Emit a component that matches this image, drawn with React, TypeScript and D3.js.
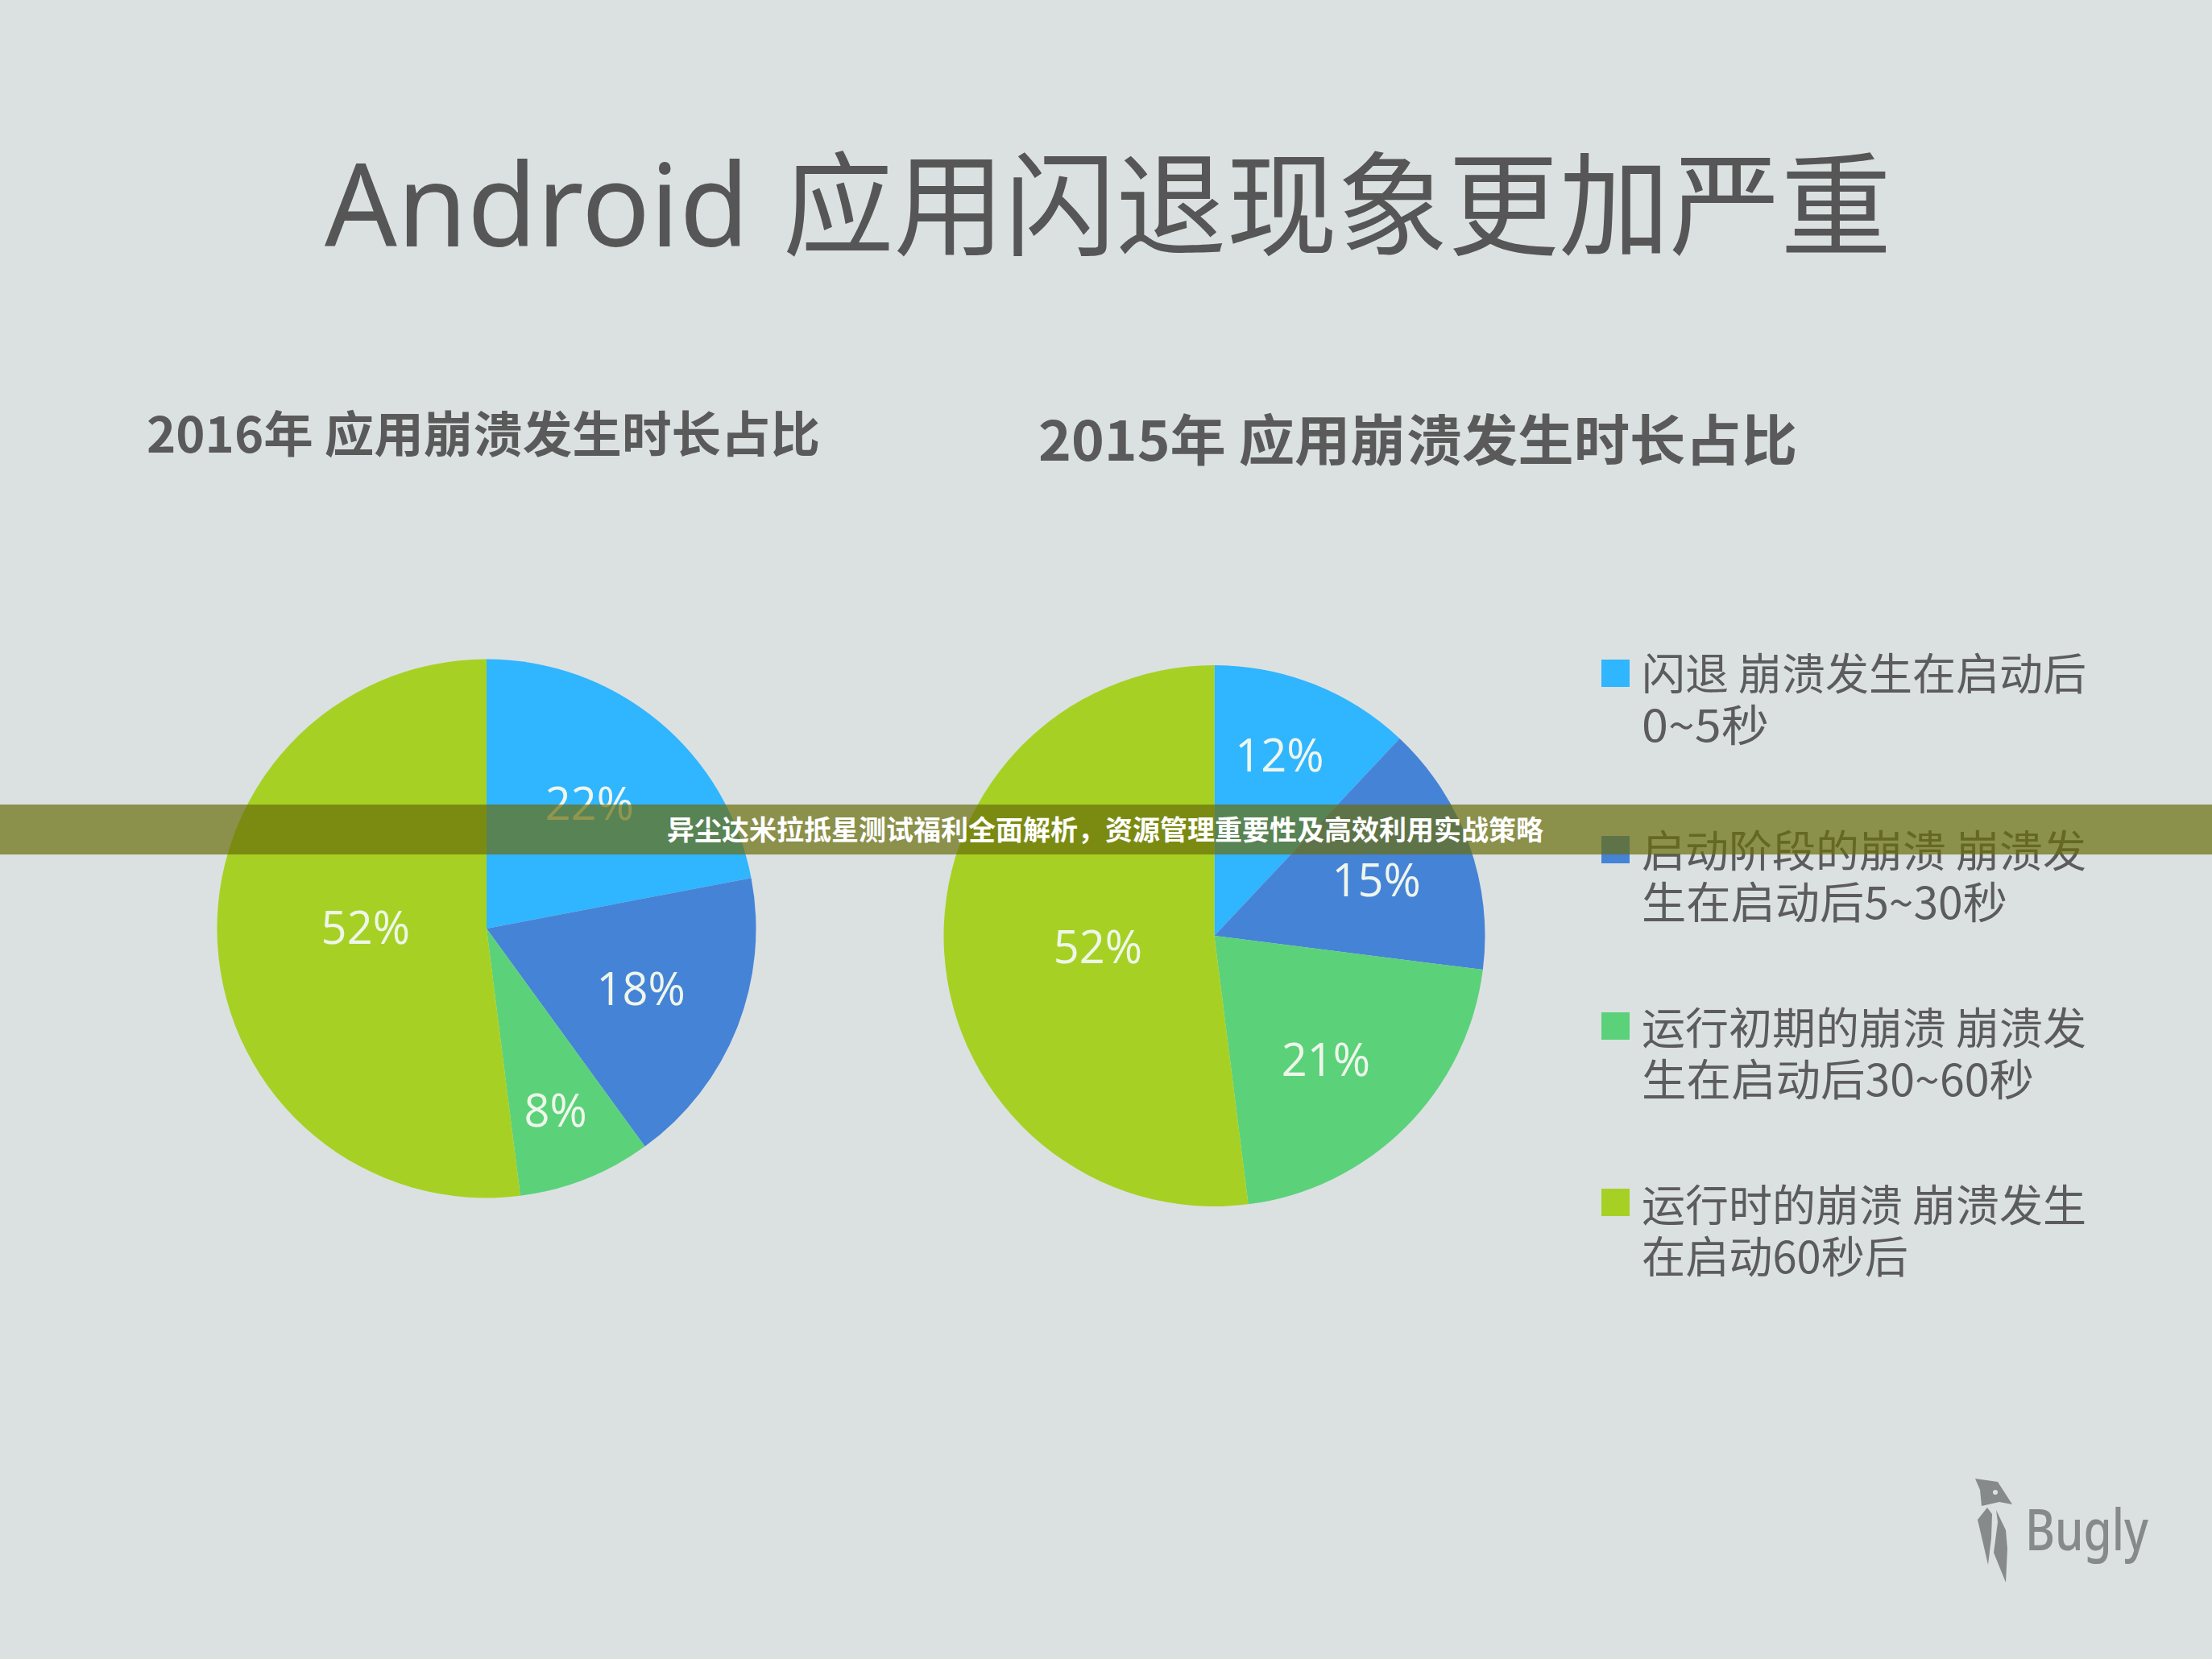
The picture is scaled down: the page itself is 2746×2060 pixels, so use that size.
import React from "react";
import * as d3 from "d3";

const W = 2746, H = 2060;
const titleLatin = "Android";
const titleCjk = "应用闪退现象更加严重";
const banner = "异尘达米拉抵星测试福利全面解析，资源管理重要性及高效利用实战策略";
const colors = ["#30b5ff", "#4583d6", "#5bd17a", "#a6d124"];
const values2016 = [22, 18, 8, 52];
const values2015 = [12, 15, 21, 52];
const labelRadial2016 = [0.6, 0.61, 0.72, 0.45];
const labelRadial2015 = [0.71, 0.63, 0.62, 0.44];
const labelShift2016 = [[0, -1], [2, 0], [-3, 2], [0, -11]];
const labelShift2015 = [[-7, -2], [2, 3], [-9, 7], [3, 5]];
const title2016 = "2016年 应用崩溃发生时长占比";
const title2015 = "2015年 应用崩溃发生时长占比";
const legendLines = [
  ["闪退 崩溃发生在启动后", "0~5秒"],
  ["启动阶段的崩溃 崩溃发", "生在启动后5~30秒"],
  ["运行初期的崩溃 崩溃发", "生在启动后30~60秒"],
  ["运行时的崩溃 崩溃发生", "在启动60秒后"],
];
const legendWidths = [[552, 158], [552, 454], [552, 487], [552, 331]];
const FONT = "'Noto Sans CJK SC','Noto Sans',sans-serif";

function Pie({ cx, cy, r, values, radial, shift }: { cx: number; cy: number; r: number; values: number[]; radial: number[]; shift: number[][] }) {
  const arcs = d3.pie<number>().sort(null)(values);
  const arc = d3.arc<d3.PieArcDatum<number>>().innerRadius(0).outerRadius(r);
  return (
    <g transform={`translate(${cx},${cy})`}>
      {arcs.map((a, i) => <path key={i} d={arc(a) as string} fill={colors[i]} />)}
      {arcs.map((a, i) => {
        const m = (a.startAngle + a.endAngle) / 2;
        const d = radial[i] * r;
        return (
          <text key={i} x={Math.sin(m) * d + shift[i][0]} y={-Math.cos(m) * d + shift[i][1]} dy="0.36em" textAnchor="middle"
            fontFamily="'Open Sans',sans-serif" fontSize={56} fill="#eef6ea">
            {values[i]}%
          </text>
        );
      })}
    </g>
  );
}

export default function App() {
  return (
    <svg width={W} height={H} viewBox={`0 0 ${W} ${H}`} style={{ position: "absolute", left: 0, top: 0, display: "block" }}>
      <rect width={W} height={H} fill="#dbe1e1" />
      <text x={403} y={306} fontFamily="'Noto Sans',sans-serif" fontSize={143} fill="#565656" textLength={527} lengthAdjust="spacingAndGlyphs">{titleLatin}</text>
      <text x={972} y={306} fontFamily={FONT} fontSize={140} fill="#565656" textLength={1376} lengthAdjust="spacingAndGlyphs">{titleCjk}</text>
      <text x={182} y={562} fontFamily={FONT} fontSize={61} fontWeight={700} fill="#5a5a5a" textLength={836} lengthAdjust="spacingAndGlyphs">{title2016}</text>
      <text x={1289} y={572} fontFamily={FONT} fontSize={68} fontWeight={700} fill="#5a5a5a" textLength={942} lengthAdjust="spacingAndGlyphs">{title2015}</text>
      <Pie cx={604} cy={1153} r={334.5} values={values2016} radial={labelRadial2016} shift={labelShift2016} />
      <Pie cx={1507.5} cy={1162} r={336} values={values2015} radial={labelRadial2015} shift={labelShift2015} />
      {legendLines.map((lines, i) => {
        const y = 819 + i * 219;
        return (
          <g key={i}>
            <rect x={1988} y={y} width={35} height={34} fill={colors[i]} />
            {lines.map((t, j) => (
              <text key={j} x={2038} y={y + 38 + i + j * 64} fontFamily={FONT} fontSize={54} fill="#5c5c5c" textLength={legendWidths[i][j]} lengthAdjust="spacingAndGlyphs">{t}</text>
            ))}
          </g>
        );
      })}
      <g fill="#868a8a">
        <path d="M2452,1836 L2480,1840 L2498,1868 L2482,1865 L2460,1870 L2458,1850 Z" />
        <path d="M2455,1887 L2467,1872 L2473,1880 L2472,1910 L2468,1943 L2462,1917 Z" />
        <path d="M2478,1875 L2490,1900 L2492,1923 L2490,1965 L2475,1928 L2480,1890 Z" />
        <circle cx={2477} cy={1853} r={3} fill="#dbe1e1" />
        <text x={2514} y={1925} fontFamily="'Noto Sans',sans-serif" fontSize={70} fontWeight={500} textLength={153} lengthAdjust="spacingAndGlyphs">Bugly</text>
      </g>
      <rect x={0} y={999} width={W} height={62} fill="rgb(106,109,12)" fillOpacity={0.7} />
      <text x={W / 2 - 1} y={1031} dy="0.36em" textAnchor="middle" fontFamily={FONT} fontSize={34} fontWeight={700} fill="#ffffff">{banner}</text>
    </svg>
  );
}
